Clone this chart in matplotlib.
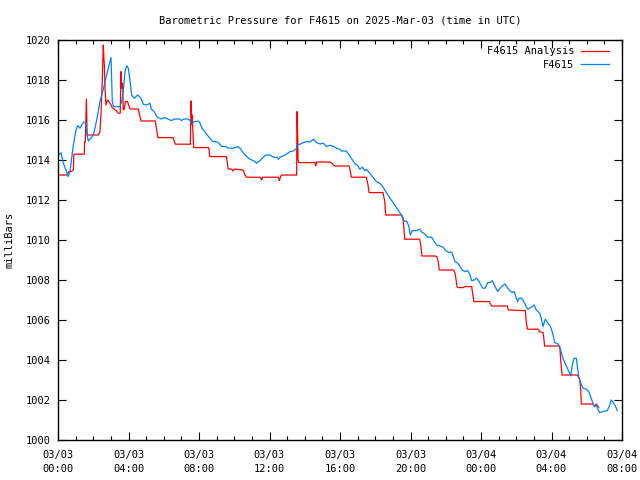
import matplotlib
matplotlib.use("Agg")
import matplotlib.pyplot as plt
import numpy as np

# hours since 2025-03-03 00:00 UTC, pressure in mb
station_hours = [
    0.02, 0.17, 0.30, 0.49, 0.58, 0.68, 0.87, 1.00, 1.12, 1.25, 1.34, 1.46, 1.57, 1.65, 1.72,
    1.87, 2.00, 2.10, 2.25, 2.38, 2.48, 2.63, 2.76, 2.85, 2.95, 3.01, 3.08, 3.16, 3.52, 3.61,
    3.70, 3.80, 3.90, 3.99, 4.09, 4.18, 4.33, 4.52, 4.71, 4.84, 5.03, 5.22, 5.29, 5.45, 5.58,
    5.67, 5.86, 6.05, 6.24, 6.43, 6.62, 6.90, 7.00, 7.15, 7.38, 7.51, 7.60, 7.76, 7.94, 8.04,
    8.17, 8.32, 8.47, 8.61, 8.74, 8.89, 9.08, 9.17, 9.30, 9.55, 9.65, 9.93, 10.21, 10.37, 10.51,
    10.71, 10.89, 11.08, 11.27, 11.46, 11.65, 11.80, 12.03, 12.22, 12.43, 12.50, 12.60, 12.75, 12.98, 13.16,
    13.35, 13.50, 13.58, 13.73, 13.92, 14.11, 14.30, 14.49, 14.68, 14.87, 15.05, 15.25, 15.43, 15.72, 15.79,
    15.98, 16.07, 16.36, 16.45, 16.64, 16.83, 17.02, 17.12, 17.27, 17.40, 17.49, 17.69, 17.87, 18.06, 18.25,
    18.40, 18.54, 18.72, 18.91, 19.10, 19.29, 19.48, 19.57, 19.61, 19.80, 19.91, 19.99, 20.10, 20.33, 20.52,
    20.61, 20.75, 20.98, 21.20, 21.35, 21.49, 21.67, 21.86, 22.00, 22.14, 22.34, 22.43, 22.52, 22.68, 22.81,
    22.94, 23.09, 23.25, 23.38, 23.47, 23.62, 23.76, 23.89, 24.00, 24.10, 24.23, 24.38, 24.51, 24.64, 24.75,
    24.85, 24.95, 25.08, 25.21, 25.36, 25.52, 25.65, 25.78, 25.89, 25.97, 26.08, 26.16, 26.29, 26.38, 26.57,
    26.67, 26.85, 27.01, 27.14, 27.33, 27.42, 27.52, 27.65, 27.80, 27.95, 28.09, 28.18, 28.37, 28.52, 28.65,
    28.75, 28.90, 29.03, 29.09, 29.18, 29.28, 29.41, 29.46, 29.54, 29.66, 29.79, 29.97, 30.11, 30.22, 30.35,
    30.45, 30.54, 30.64, 30.73, 30.92, 31.17, 31.30, 31.39, 31.53, 31.68, 31.73,
]
station_mb = [
    1014.25, 1014.37, 1013.84, 1013.42, 1013.17, 1013.42, 1014.75, 1015.42, 1015.72, 1015.59, 1015.75, 1015.89, 1015.89, 1015.25, 1014.95,
    1015.09, 1015.25, 1015.59, 1016.25, 1016.92, 1017.25, 1017.75, 1018.25, 1018.59, 1018.92, 1019.12, 1016.92, 1016.67, 1016.67, 1016.92,
    1017.42, 1018.42, 1018.72, 1018.59, 1017.92, 1017.25, 1017.09, 1017.25, 1017.09, 1016.79, 1016.75, 1016.84, 1016.55, 1016.42, 1016.22,
    1016.12, 1016.05, 1016.12, 1016.05, 1015.97, 1016.05, 1016.05, 1015.97, 1016.05, 1016.05, 1015.95, 1015.84, 1015.92, 1015.95, 1015.89,
    1015.59, 1015.42, 1015.25, 1015.09, 1014.95, 1014.92, 1014.89, 1014.79, 1014.67, 1014.67, 1014.59, 1014.59, 1014.67, 1014.55, 1014.34,
    1014.17, 1014.04, 1013.97, 1013.84, 1013.97, 1014.14, 1014.25, 1014.25, 1014.14, 1014.14, 1014.04, 1014.14, 1014.20, 1014.30, 1014.42,
    1014.45, 1014.54, 1014.75, 1014.79, 1014.87, 1014.92, 1014.90, 1015.04, 1014.87, 1014.80, 1014.84, 1014.67, 1014.74, 1014.64, 1014.59,
    1014.54, 1014.45, 1014.45, 1014.34, 1014.09, 1013.84, 1013.70, 1013.54, 1013.64, 1013.47, 1013.54, 1013.34, 1013.14, 1012.92, 1012.84,
    1012.70, 1012.50, 1012.25, 1012.00, 1011.75, 1011.50, 1011.25, 1011.14, 1010.97, 1010.92, 1010.67, 1010.25, 1010.47, 1010.47, 1010.54,
    1010.42, 1010.34, 1010.14, 1010.14, 1009.92, 1009.75, 1009.70, 1009.64, 1009.47, 1009.39, 1009.39, 1009.17, 1008.92, 1008.84, 1008.67,
    1008.50, 1008.42, 1008.47, 1008.25, 1007.97, 1008.00, 1008.09, 1007.92, 1007.75, 1007.59, 1007.59, 1007.87, 1007.87, 1007.97, 1007.75,
    1007.59, 1007.42, 1007.59, 1007.70, 1007.80, 1007.59, 1007.45, 1007.37, 1007.42, 1007.17, 1006.92, 1007.09, 1007.09, 1007.00, 1006.67,
    1006.54, 1006.64, 1006.75, 1006.50, 1006.34, 1006.09, 1005.67, 1006.04, 1005.84, 1005.67, 1005.25, 1004.87, 1004.80, 1004.50, 1004.09,
    1003.87, 1003.59, 1003.34, 1003.20, 1003.75, 1004.09, 1004.09, 1003.75, 1003.17, 1002.84, 1002.59, 1002.54, 1002.42, 1002.17, 1001.84,
    1001.67, 1001.75, 1001.54, 1001.37, 1001.42, 1001.47, 1001.75, 1002.00, 1001.84, 1001.59, 1001.47,
]

analysis_hours = [
    0.02, 0.49, 0.62, 0.74, 0.87, 0.90, 1.49, 1.51, 1.55, 1.61, 1.65, 2.29, 2.38, 2.44, 2.51,
    2.57, 2.61, 2.63, 2.67, 2.72, 2.82, 2.89, 3.01, 3.08, 3.19, 3.33, 3.42, 3.53, 3.57, 3.61,
    3.67, 3.70, 3.76, 3.82, 3.95, 4.03, 4.09, 4.56, 4.65, 4.71, 5.52, 5.58, 5.67, 6.52, 6.62,
    6.66, 7.51, 7.55, 7.59, 7.62, 7.66, 7.70, 8.55, 8.61, 9.55, 9.61, 9.65, 9.83, 9.93, 10.03,
    10.51, 10.61, 10.71, 11.46, 11.56, 11.61, 12.50, 12.56, 12.64, 12.69, 13.54, 13.56, 13.60, 13.62, 13.66,
    14.58, 14.62, 14.68, 15.43, 15.53, 15.70, 16.51, 16.58, 16.64, 17.49, 17.59, 17.65, 18.44, 18.54, 18.59,
    19.48, 19.57, 19.63, 19.67, 20.52, 20.58, 20.65, 21.39, 21.49, 21.58, 21.63, 22.43, 22.52, 22.58, 22.64,
    22.71, 23.00, 23.09, 23.47, 23.53, 23.60, 24.47, 24.57, 24.64, 25.49, 25.55, 26.51, 26.57, 26.63, 27.23,
    27.33, 27.52, 27.57, 27.61, 28.47, 28.52, 28.60, 29.46, 29.60, 29.66, 29.69, 30.35, 30.45, 30.54, 30.68,
]
analysis_mb = [
    1013.25, 1013.25, 1013.42, 1013.42, 1013.50, 1014.29, 1014.29, 1014.92, 1014.92, 1017.05, 1015.25, 1015.25, 1015.42, 1016.34, 1017.92,
    1019.75, 1019.00, 1018.75, 1017.59, 1016.75, 1017.00, 1016.92, 1016.75, 1016.62, 1016.55, 1016.45, 1016.34, 1016.34, 1018.42, 1017.59,
    1017.84, 1016.50, 1016.55, 1016.92, 1016.92, 1016.67, 1016.55, 1016.55, 1016.17, 1015.95, 1015.95, 1015.59, 1015.12, 1015.12, 1014.89,
    1014.79, 1014.79, 1016.95, 1015.79, 1016.25, 1015.25, 1014.62, 1014.62, 1014.17, 1014.17, 1013.84, 1013.55, 1013.55, 1013.45, 1013.55,
    1013.50, 1013.25, 1013.14, 1013.14, 1013.00, 1013.14, 1013.14, 1012.97, 1013.20, 1013.25, 1013.25, 1016.42, 1015.17, 1014.00, 1013.87,
    1013.87, 1013.70, 1013.90, 1013.90, 1013.84, 1013.70, 1013.70, 1013.47, 1013.14, 1013.14, 1012.75, 1012.37, 1012.37, 1011.92, 1011.25,
    1011.25, 1011.09, 1010.59, 1010.04, 1010.04, 1009.75, 1009.20, 1009.20, 1009.17, 1008.87, 1008.50, 1008.50, 1008.37, 1008.04, 1007.67,
    1007.62, 1007.62, 1007.67, 1007.67, 1007.30, 1006.92, 1006.92, 1006.75, 1006.70, 1006.70, 1006.50, 1006.47, 1005.92, 1005.54, 1005.54,
    1005.42, 1005.37, 1005.04, 1004.70, 1004.70, 1004.00, 1003.25, 1003.25, 1003.04, 1002.50, 1001.80, 1001.80, 1001.67, 1001.80, 1001.64,
]

tick_hours = [0, 4, 8, 12, 16, 20, 24, 28, 32]
tick_labels = ["03/03\n00:00", "03/03\n04:00", "03/03\n08:00", "03/03\n12:00", "03/03\n16:00",
               "03/03\n20:00", "03/04\n00:00", "03/04\n04:00", "03/04\n08:00"]

plt.rcParams['font.family'] = ['DejaVu Sans Mono']
plt.rcParams['font.size'] = 7.5

fig = plt.figure(figsize=(6.4, 4.8), dpi=100)
ax = fig.add_axes([58 / 640, 40 / 480, 564 / 640, 400 / 480])

ax.plot(analysis_hours, analysis_mb, color='#ff0000', lw=0.9, label='F4615 Analysis')
ax.plot(station_hours, station_mb, color='#0080ff', lw=0.9, label='F4615')

ax.set_xlim(0, 32)
ax.set_ylim(1000, 1020)
ax.set_xticks(tick_hours)
ax.set_xticklabels(tick_labels, linespacing=1.5)
ax.set_xticks(np.arange(0, 33, 1), minor=True)
ax.set_yticks(np.arange(1000, 1021, 2))

ax.tick_params(axis='both', which='major', direction='in', length=6, width=0.8,
               top=True, right=True, pad=5)
ax.tick_params(axis='x', which='major', pad=7)
ax.tick_params(axis='x', which='minor', direction='in', length=3, width=0.8, top=True)
for s in ax.spines.values():
    s.set_linewidth(1.0)

ax.set_ylabel('milliBars', labelpad=8)
ax.set_title('Barometric Pressure for F4615 on 2025-Mar-03 (time in UTC)', pad=12, fontsize=7.5)

ax.legend(loc='upper right', markerfirst=False, frameon=False, handlelength=2.7,
          handletextpad=0.6, borderaxespad=0.2, labelspacing=0.35,
          bbox_to_anchor=(1.0 - 7 / 564, 1.0))

fig.savefig('out.png', dpi=100)
